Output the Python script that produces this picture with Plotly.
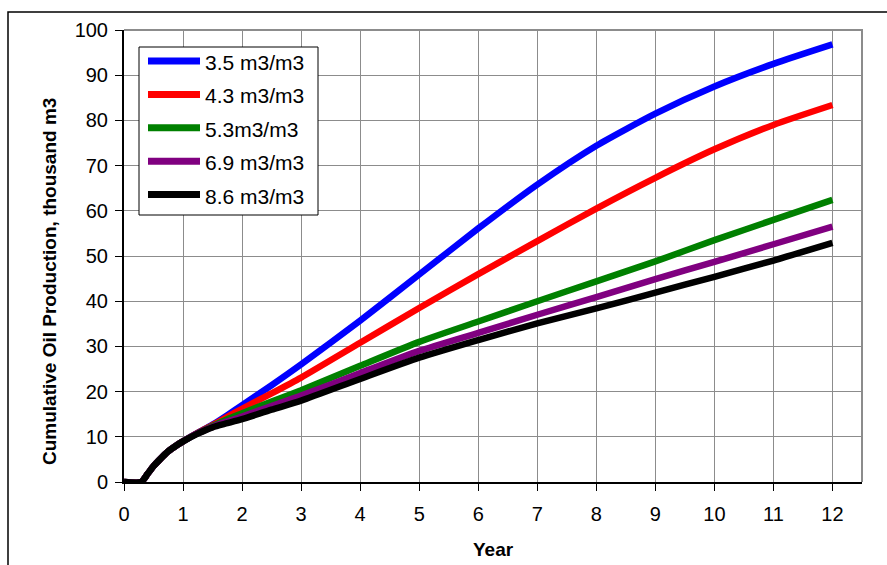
import plotly.graph_objects as go

# ---- data ----
years = [0, 0.29, 0.4, 0.5, 0.6, 0.75, 0.9, 1.0, 1.25, 1.5, 1.75, 2, 2.5, 3, 4, 5, 6, 7, 8, 9, 10, 11, 12]
s35 = [0, 0, 1.8, 3.5, 4.9, 6.8, 8.2, 9.0, 10.9, 12.7, 14.8, 17.0, 21.4, 26.0, 35.7, 45.9, 56.1, 65.8, 74.4, 81.5, 87.5, 92.5, 96.8]
s43 = [0, 0, 1.8, 3.5, 4.9, 6.8, 8.2, 9.0, 10.9, 12.6, 14.4, 16.2, 19.6, 23.1, 30.8, 38.5, 46.0, 53.3, 60.5, 67.3, 73.6, 79.0, 83.4]
s53 = [0, 0, 1.8, 3.5, 4.9, 6.8, 8.2, 9.0, 10.8, 12.4, 13.9, 15.2, 17.8, 20.3, 25.7, 31.0, 35.5, 40.0, 44.4, 48.8, 53.5, 58.0, 62.4]
s69 = [0, 0, 1.8, 3.5, 4.9, 6.8, 8.2, 9.0, 10.8, 12.2, 13.4, 14.5, 16.8, 19.1, 24.1, 29.0, 33.0, 37.0, 40.9, 44.9, 48.7, 52.6, 56.5]
s86 = [0, 0, 1.8, 3.5, 4.9, 6.8, 8.2, 9.0, 10.7, 12.1, 13.0, 13.9, 16.0, 18.0, 22.8, 27.5, 31.4, 35.1, 38.4, 41.9, 45.4, 49.0, 52.9]
series_names = ["3.5 m3/m3", "4.3 m3/m3", "5.3m3/m3", "6.9 m3/m3", "8.6 m3/m3"]
series_values = [s35, s43, s53, s69, s86]
colors = ["#0000FF", "#FF0000", "#008000", "#800080", "#000000"]
x_ticks = list(range(0, 13))
y_ticks = list(range(0, 101, 10))

FONT = "Liberation Sans, Arial, sans-serif"

# plot-area geometry in pixels (for paper-coordinate helpers)
W, H = 887, 565
L, R, T, B = 124, 862, 30, 482


def px(xp):
    return (xp - L) / (R - L)


def py(yp):
    return (B - yp) / (B - T)


fig = go.Figure()
for name, vals, col in zip(series_names, series_values, colors):
    fig.add_trace(go.Scatter(x=years, y=vals, name=name, mode="lines",
                             line=dict(color=col, width=6.5, shape="spline", smoothing=0.6),
                             showlegend=False))

shapes = []
annotations = []

# outer chart-area frame (top and left visible)
shapes.append(dict(type="path", xref="paper", yref="paper",
                   path=f"M {px(8)} {py(600)} L {px(8)} {py(12)} L {px(900)} {py(12)}",
                   line=dict(color="black", width=1.5)))
# plot area top / right border (gray)
shapes.append(dict(type="path", xref="paper", yref="paper",
                   path="M 0 1 L 1 1 L 1 0", line=dict(color="#8c8c8c", width=2)))

# legend box
shapes.append(dict(type="rect", xref="paper", yref="paper",
                   x0=px(139), x1=px(318), y0=py(215), y1=py(47),
                   line=dict(color="black", width=1), fillcolor="white", layer="above"))
for i, (name, col) in enumerate(zip(series_names, colors)):
    yc = 61 + i * 33.4
    shapes.append(dict(type="line", xref="paper", yref="paper",
                       x0=px(148), x1=px(200), y0=py(yc), y1=py(yc),
                       line=dict(color=col, width=7), layer="above"))
    annotations.append(dict(xref="paper", yref="paper", x=px(203), y=py(yc + 1.5),
                            text=name, showarrow=False, xanchor="left", yanchor="middle",
                            font=dict(family=FONT, size=21, color="black")))

# axis titles
annotations.append(dict(xref="paper", yref="paper", x=px(49), y=py(282),
                        text="<b>Cumulative Oil Production, thousand m3</b>", textangle=-90,
                        showarrow=False, xanchor="center", yanchor="middle",
                        font=dict(family=FONT, size=19, color="black")))
annotations.append(dict(xref="paper", yref="paper", x=0.5, y=py(549),
                        text="<b>Year</b>", showarrow=False, xanchor="center", yanchor="middle",
                        font=dict(family=FONT, size=19, color="black")))

fig.update_layout(
    width=W, height=H,
    margin=dict(l=L, r=W - R, t=T, b=H - B, pad=0),
    paper_bgcolor="white", plot_bgcolor="white",
    font=dict(family=FONT, size=20, color="black"),
    shapes=shapes, annotations=annotations,
    showlegend=False,
)
fig.update_xaxes(range=[0, 12.5], tickvals=x_ticks, ticktext=[str(v) for v in x_ticks],
                 showgrid=True, gridcolor="#8c8c8c", gridwidth=1,
                 showline=True, linecolor="black", linewidth=2,
                 ticks="outside", ticklen=7, tickcolor="black", tickwidth=1,
                 ticklabelstandoff=6,
                 tickfont=dict(family=FONT, size=20, color="black"), zeroline=False)
fig.update_yaxes(range=[0, 100], tickvals=y_ticks, ticktext=[str(v) for v in y_ticks],
                 showgrid=True, gridcolor="#8c8c8c", gridwidth=1,
                 showline=True, linecolor="black", linewidth=2,
                 ticks="outside", ticklen=7, tickcolor="black", tickwidth=1,
                 ticklabelstandoff=3,
                 tickfont=dict(family=FONT, size=20, color="black"), zeroline=False)

fig.write_html("out.html", config={"responsive": False, "displayModeBar": False},
               post_script="document.body.style.margin='0';document.body.style.overflow='hidden';")
